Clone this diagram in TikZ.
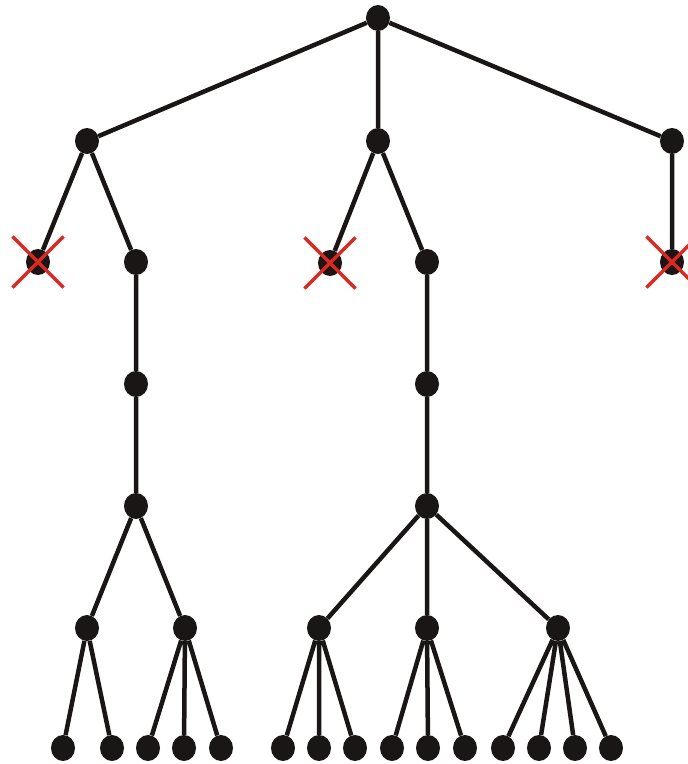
\documentclass[tikz,border=0pt]{standalone}
\usetikzlibrary{shapes.misc,shapes.geometric}
\definecolor{ink}{HTML}{1A1615}
\definecolor{xred}{HTML}{E0261F}
\begin{document}
\begin{tikzpicture}[x=1pt,y=-1pt,
  dot/.style={ellipse,fill=ink,inner sep=0pt,minimum width=24pt,minimum height=26pt},
  xmark/.style={cross out,draw=xred,line width=3.2pt,inner sep=0pt,minimum size=48pt},
  edge/.style={draw=ink,line width=4.5pt}]
\useasboundingbox (0,0) rectangle (688,764);
\clip (0,0) rectangle (688,764);
% level 0-1
\node[dot] (r) at (378,18) {};
\node[dot] (a) at (87,141) {};
\node[dot] (b) at (378,141) {};
\node[dot] (c) at (672,141) {};
% level 2
\node[dot] (a1) at (38,262) {};
\node[dot] (a2) at (136,262) {};
\node[dot] (b1) at (330,263) {};
\node[dot] (b2) at (427,262) {};
\node[dot] (c1) at (672,262) {};
% chains
\node[dot] (a3) at (136,384) {};
\node[dot] (a4) at (136,506) {};
\node[dot] (b3) at (427,384) {};
\node[dot] (b4) at (427,506) {};
% level 5
\node[dot] (p) at (87,628) {};
\node[dot] (q) at (185,628) {};
\node[dot] (s) at (319,628) {};
\node[dot] (t) at (427,628) {};
\node[dot] (u) at (558,628) {};
% leaves
\foreach \n/\x in {p1/63,p2/112,q1/148,q2/184,q3/221,s1/283,s2/319,s3/355,t1/392,t2/428,t3/465,u1/503,u2/539,u3/575,u4/611}
  \node[dot] (\n) at (\x,748) {};
\draw[edge] (r)--(a) (r)--(b) (r)--(c)
  (a)--(a1) (a)--(a2) (b)--(b1) (b)--(b2) (c)--(c1)
  (a2)--(a3)--(a4) (b2)--(b3)--(b4)
  (a4)--(p) (a4)--(q) (b4)--(s) (b4)--(t) (b4)--(u)
  (p)--(p1) (p)--(p2)
  (q)--(q1) (q)--(q2) (q)--(q3)
  (s)--(s1) (s)--(s2) (s)--(s3)
  (t)--(t1) (t)--(t2) (t)--(t3)
  (u)--(u1) (u)--(u2) (u)--(u3) (u)--(u4);
\node[xmark] at (a1) {};
\node[xmark] at (b1) {};
\node[xmark] at (c1) {};
\end{tikzpicture}
\end{document}
